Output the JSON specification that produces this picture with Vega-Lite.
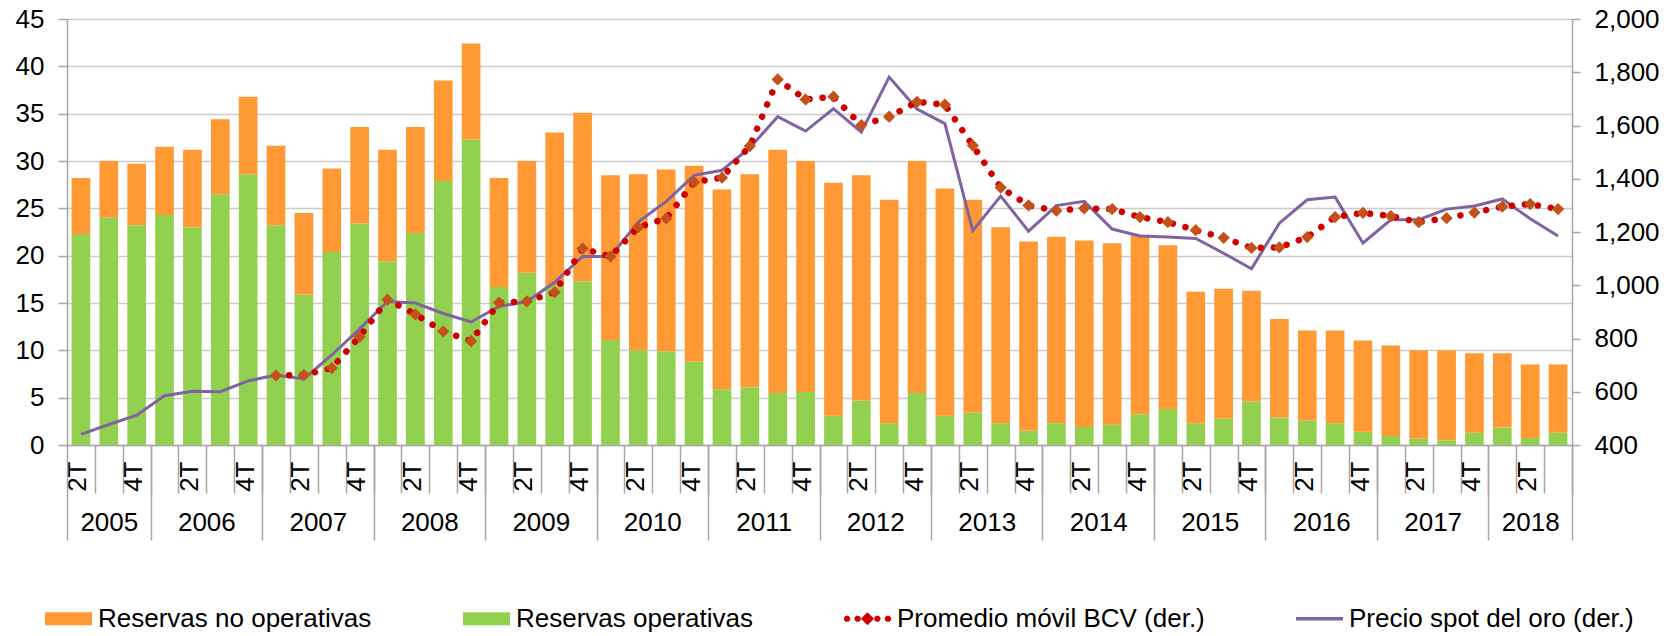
{
  "$schema": "https://vega.github.io/schema/vega-lite/v6.json",
  "width": 1505,
  "height": 426,
  "autosize": {"type": "none"},
  "padding": {"left": 67, "top": 19, "right": 104, "bottom": 191},
  "background": "white",
  "config": {
    "font": "Liberation Sans",
    "view": {"stroke": null},
    "axis": {"labelFont": "Liberation Sans", "labelColor": "#000000", "labelFontSize": 26, "title": null},
    "legend": {"labelFont": "Liberation Sans"}
  },
  "datasets": {
    "trimestres": [
      {"p": "2005-2T", "precio": 440},
      {"p": "2005-3T", "precio": 477},
      {"p": "2005-4T", "precio": 512},
      {"p": "2006-1T", "precio": 585},
      {"p": "2006-2T", "precio": 602},
      {"p": "2006-3T", "precio": 600},
      {"p": "2006-4T", "precio": 641},
      {"p": "2007-1T", "precio": 663, "promedio": 661},
      {"p": "2007-2T", "precio": 648, "promedio": 663},
      {"p": "2007-3T", "precio": 738, "promedio": 689},
      {"p": "2007-4T", "precio": 836, "promedio": 807},
      {"p": "2008-1T", "precio": 939, "promedio": 946},
      {"p": "2008-2T", "precio": 933, "promedio": 891},
      {"p": "2008-3T", "precio": 894, "promedio": 827},
      {"p": "2008-4T", "precio": 862, "promedio": 790},
      {"p": "2009-1T", "precio": 920, "promedio": 935},
      {"p": "2009-2T", "precio": 939, "promedio": 939},
      {"p": "2009-3T", "precio": 1011, "promedio": 974},
      {"p": "2009-4T", "precio": 1108, "promedio": 1138},
      {"p": "2010-1T", "precio": 1108, "promedio": 1108},
      {"p": "2010-2T", "precio": 1238, "promedio": 1218},
      {"p": "2010-3T", "precio": 1315, "promedio": 1251},
      {"p": "2010-4T", "precio": 1413, "promedio": 1387},
      {"p": "2011-1T", "precio": 1432, "promedio": 1404},
      {"p": "2011-2T", "precio": 1516, "promedio": 1523},
      {"p": "2011-3T", "precio": 1633, "promedio": 1773},
      {"p": "2011-4T", "precio": 1579, "promedio": 1698},
      {"p": "2012-1T", "precio": 1663, "promedio": 1708},
      {"p": "2012-2T", "precio": 1575, "promedio": 1601},
      {"p": "2012-3T", "precio": 1782, "promedio": 1633},
      {"p": "2012-4T", "precio": 1662, "promedio": 1689},
      {"p": "2013-1T", "precio": 1607, "promedio": 1678},
      {"p": "2013-2T", "precio": 1205, "promedio": 1525},
      {"p": "2013-3T", "precio": 1335, "promedio": 1367},
      {"p": "2013-4T", "precio": 1203, "promedio": 1300},
      {"p": "2014-1T", "precio": 1299, "promedio": 1280},
      {"p": "2014-2T", "precio": 1315, "promedio": 1289},
      {"p": "2014-3T", "precio": 1211, "promedio": 1286},
      {"p": "2014-4T", "precio": 1185, "promedio": 1256},
      {"p": "2015-1T", "precio": 1181, "promedio": 1237},
      {"p": "2015-2T", "precio": 1176, "promedio": 1207},
      {"p": "2015-3T", "precio": 1120, "promedio": 1178},
      {"p": "2015-4T", "precio": 1062, "promedio": 1140},
      {"p": "2016-1T", "precio": 1233, "promedio": 1142},
      {"p": "2016-2T", "precio": 1321, "promedio": 1181},
      {"p": "2016-3T", "precio": 1331, "promedio": 1256},
      {"p": "2016-4T", "precio": 1159, "promedio": 1272},
      {"p": "2017-1T", "precio": 1246, "promedio": 1260},
      {"p": "2017-2T", "precio": 1246, "promedio": 1237},
      {"p": "2017-3T", "precio": 1286, "promedio": 1252},
      {"p": "2017-4T", "precio": 1298, "promedio": 1273},
      {"p": "2018-1T", "precio": 1324, "promedio": 1295},
      {"p": "2018-2T", "precio": 1250, "promedio": 1305},
      {"p": "2018-3T", "precio": 1185, "promedio": 1286}
    ],
    "reservas": [
      {"p": "2005-2T", "serie": "Reservas operativas", "valor": 22.3}, {"p": "2005-2T", "serie": "Reservas no operativas", "valor": 5.9},
      {"p": "2005-3T", "serie": "Reservas operativas", "valor": 24.0}, {"p": "2005-3T", "serie": "Reservas no operativas", "valor": 6.0},
      {"p": "2005-4T", "serie": "Reservas operativas", "valor": 23.2}, {"p": "2005-4T", "serie": "Reservas no operativas", "valor": 6.5},
      {"p": "2006-1T", "serie": "Reservas operativas", "valor": 24.3}, {"p": "2006-1T", "serie": "Reservas no operativas", "valor": 7.2},
      {"p": "2006-2T", "serie": "Reservas operativas", "valor": 23.0}, {"p": "2006-2T", "serie": "Reservas no operativas", "valor": 8.2},
      {"p": "2006-3T", "serie": "Reservas operativas", "valor": 26.5}, {"p": "2006-3T", "serie": "Reservas no operativas", "valor": 7.9},
      {"p": "2006-4T", "serie": "Reservas operativas", "valor": 28.6}, {"p": "2006-4T", "serie": "Reservas no operativas", "valor": 8.2},
      {"p": "2007-1T", "serie": "Reservas operativas", "valor": 23.2}, {"p": "2007-1T", "serie": "Reservas no operativas", "valor": 8.4},
      {"p": "2007-2T", "serie": "Reservas operativas", "valor": 15.9}, {"p": "2007-2T", "serie": "Reservas no operativas", "valor": 8.6},
      {"p": "2007-3T", "serie": "Reservas operativas", "valor": 20.4}, {"p": "2007-3T", "serie": "Reservas no operativas", "valor": 8.8},
      {"p": "2007-4T", "serie": "Reservas operativas", "valor": 23.4}, {"p": "2007-4T", "serie": "Reservas no operativas", "valor": 10.2},
      {"p": "2008-1T", "serie": "Reservas operativas", "valor": 19.4}, {"p": "2008-1T", "serie": "Reservas no operativas", "valor": 11.8},
      {"p": "2008-2T", "serie": "Reservas operativas", "valor": 22.4}, {"p": "2008-2T", "serie": "Reservas no operativas", "valor": 11.2},
      {"p": "2008-3T", "serie": "Reservas operativas", "valor": 27.9}, {"p": "2008-3T", "serie": "Reservas no operativas", "valor": 10.6},
      {"p": "2008-4T", "serie": "Reservas operativas", "valor": 32.3}, {"p": "2008-4T", "serie": "Reservas no operativas", "valor": 10.1},
      {"p": "2009-1T", "serie": "Reservas operativas", "valor": 16.7}, {"p": "2009-1T", "serie": "Reservas no operativas", "valor": 11.5},
      {"p": "2009-2T", "serie": "Reservas operativas", "valor": 18.2}, {"p": "2009-2T", "serie": "Reservas no operativas", "valor": 11.8},
      {"p": "2009-3T", "serie": "Reservas operativas", "valor": 16.8}, {"p": "2009-3T", "serie": "Reservas no operativas", "valor": 16.2},
      {"p": "2009-4T", "serie": "Reservas operativas", "valor": 17.3}, {"p": "2009-4T", "serie": "Reservas no operativas", "valor": 17.8},
      {"p": "2010-1T", "serie": "Reservas operativas", "valor": 11.1}, {"p": "2010-1T", "serie": "Reservas no operativas", "valor": 17.4},
      {"p": "2010-2T", "serie": "Reservas operativas", "valor": 10.0}, {"p": "2010-2T", "serie": "Reservas no operativas", "valor": 18.6},
      {"p": "2010-3T", "serie": "Reservas operativas", "valor": 9.9}, {"p": "2010-3T", "serie": "Reservas no operativas", "valor": 19.2},
      {"p": "2010-4T", "serie": "Reservas operativas", "valor": 8.8}, {"p": "2010-4T", "serie": "Reservas no operativas", "valor": 20.7},
      {"p": "2011-1T", "serie": "Reservas operativas", "valor": 5.9}, {"p": "2011-1T", "serie": "Reservas no operativas", "valor": 21.1},
      {"p": "2011-2T", "serie": "Reservas operativas", "valor": 6.1}, {"p": "2011-2T", "serie": "Reservas no operativas", "valor": 22.5},
      {"p": "2011-3T", "serie": "Reservas operativas", "valor": 5.5}, {"p": "2011-3T", "serie": "Reservas no operativas", "valor": 25.7},
      {"p": "2011-4T", "serie": "Reservas operativas", "valor": 5.6}, {"p": "2011-4T", "serie": "Reservas no operativas", "valor": 24.4},
      {"p": "2012-1T", "serie": "Reservas operativas", "valor": 3.1}, {"p": "2012-1T", "serie": "Reservas no operativas", "valor": 24.6},
      {"p": "2012-2T", "serie": "Reservas operativas", "valor": 4.7}, {"p": "2012-2T", "serie": "Reservas no operativas", "valor": 23.8},
      {"p": "2012-3T", "serie": "Reservas operativas", "valor": 2.3}, {"p": "2012-3T", "serie": "Reservas no operativas", "valor": 23.6},
      {"p": "2012-4T", "serie": "Reservas operativas", "valor": 5.5}, {"p": "2012-4T", "serie": "Reservas no operativas", "valor": 24.5},
      {"p": "2013-1T", "serie": "Reservas operativas", "valor": 3.1}, {"p": "2013-1T", "serie": "Reservas no operativas", "valor": 24.0},
      {"p": "2013-2T", "serie": "Reservas operativas", "valor": 3.4}, {"p": "2013-2T", "serie": "Reservas no operativas", "valor": 22.5},
      {"p": "2013-3T", "serie": "Reservas operativas", "valor": 2.3}, {"p": "2013-3T", "serie": "Reservas no operativas", "valor": 20.7},
      {"p": "2013-4T", "serie": "Reservas operativas", "valor": 1.5}, {"p": "2013-4T", "serie": "Reservas no operativas", "valor": 20.0},
      {"p": "2014-1T", "serie": "Reservas operativas", "valor": 2.3}, {"p": "2014-1T", "serie": "Reservas no operativas", "valor": 19.7},
      {"p": "2014-2T", "serie": "Reservas operativas", "valor": 1.9}, {"p": "2014-2T", "serie": "Reservas no operativas", "valor": 19.7},
      {"p": "2014-3T", "serie": "Reservas operativas", "valor": 2.15}, {"p": "2014-3T", "serie": "Reservas no operativas", "valor": 19.15},
      {"p": "2014-4T", "serie": "Reservas operativas", "valor": 3.25}, {"p": "2014-4T", "serie": "Reservas no operativas", "valor": 18.95},
      {"p": "2015-1T", "serie": "Reservas operativas", "valor": 3.8}, {"p": "2015-1T", "serie": "Reservas no operativas", "valor": 17.3},
      {"p": "2015-2T", "serie": "Reservas operativas", "valor": 2.3}, {"p": "2015-2T", "serie": "Reservas no operativas", "valor": 13.9},
      {"p": "2015-3T", "serie": "Reservas operativas", "valor": 2.8}, {"p": "2015-3T", "serie": "Reservas no operativas", "valor": 13.7},
      {"p": "2015-4T", "serie": "Reservas operativas", "valor": 4.6}, {"p": "2015-4T", "serie": "Reservas no operativas", "valor": 11.7},
      {"p": "2016-1T", "serie": "Reservas operativas", "valor": 2.9}, {"p": "2016-1T", "serie": "Reservas no operativas", "valor": 10.4},
      {"p": "2016-2T", "serie": "Reservas operativas", "valor": 2.6}, {"p": "2016-2T", "serie": "Reservas no operativas", "valor": 9.5},
      {"p": "2016-3T", "serie": "Reservas operativas", "valor": 2.3}, {"p": "2016-3T", "serie": "Reservas no operativas", "valor": 9.8},
      {"p": "2016-4T", "serie": "Reservas operativas", "valor": 1.4}, {"p": "2016-4T", "serie": "Reservas no operativas", "valor": 9.65},
      {"p": "2017-1T", "serie": "Reservas operativas", "valor": 0.95}, {"p": "2017-1T", "serie": "Reservas no operativas", "valor": 9.55},
      {"p": "2017-2T", "serie": "Reservas operativas", "valor": 0.65}, {"p": "2017-2T", "serie": "Reservas no operativas", "valor": 9.35},
      {"p": "2017-3T", "serie": "Reservas operativas", "valor": 0.5}, {"p": "2017-3T", "serie": "Reservas no operativas", "valor": 9.5},
      {"p": "2017-4T", "serie": "Reservas operativas", "valor": 1.3}, {"p": "2017-4T", "serie": "Reservas no operativas", "valor": 8.4},
      {"p": "2018-1T", "serie": "Reservas operativas", "valor": 1.85}, {"p": "2018-1T", "serie": "Reservas no operativas", "valor": 7.85},
      {"p": "2018-2T", "serie": "Reservas operativas", "valor": 0.75}, {"p": "2018-2T", "serie": "Reservas no operativas", "valor": 7.75},
      {"p": "2018-3T", "serie": "Reservas operativas", "valor": 1.3}, {"p": "2018-3T", "serie": "Reservas no operativas", "valor": 7.2}
    ]
  },
  "resolve": {"scale": {"y": "independent"}, "axis": {"x": "independent", "y": "independent"}},
  "layer": [
    {
      "data": {"name": "reservas"},
      "mark": {"type": "bar"},
      "encoding": {
        "x": {
          "field": "p", "type": "ordinal",
          "scale": {"paddingInner": 0.33, "paddingOuter": 0.165},
          "axis": {
            "orient": "bottom",
            "domainColor": "#A6A6A6", "domainWidth": 1.5,
            "tickColor": "#A6A6A6", "tickWidth": 1.5, "tickSize": 48, "tickOffset": 13.94,
            "labelAngle": 270, "labelAlign": "right", "labelBaseline": "middle",
            "labelPadding": -32, "labelOffset": -16.9,
            "labelExpr": "isValid(datum.value) && (slice(''+datum.value, 5) == '2T' || slice(''+datum.value, 5) == '4T') ? slice(''+datum.value, 5) : ''",
            "labelOverlap": false, "labelBound": false,
            "grid": false
          }
        },
        "y": {
          "field": "valor", "type": "quantitative", "stack": "zero",
          "scale": {"domain": [0, 45], "nice": false, "zero": true},
          "axis": {
            "orient": "left",
            "values": [0, 5, 10, 15, 20, 25, 30, 35, 40, 45],
            "grid": true, "gridColor": "#CCCCCC", "gridWidth": 1.5,
            "domainColor": "#A6A6A6", "domainWidth": 1.5,
            "tickColor": "#A6A6A6", "tickWidth": 1.5, "tickSize": 9,
            "labelPadding": 14
          }
        },
        "color": {
          "field": "serie", "type": "nominal",
          "scale": {
            "domain": ["Reservas no operativas", "Reservas operativas", "Promedio móvil BCV (der.)", "Precio spot del oro (der.)"],
            "range": ["#FF9933", "#92D050", "#D00000", "#8064A2"]
          },
          "legend": {
            "orient": "none", "legendX": -22, "legendY": 576,
            "direction": "horizontal", "columns": 4, "title": null,
            "columnPadding": 91, "padding": 0,
            "labelFontSize": 26, "labelColor": "#000000", "labelOffset": 6, "labelLimit": 0,
            "symbolSize": 2209, "symbolStrokeWidth": 0,
            "encode": {
              "symbols": {
                "update": {
                  "shape": {"signal": "datum.value == 'Precio spot del oro (der.)' ? 'M-1,-0.075L1,-0.075L1,0.075L-1,0.075Z' : datum.value == 'Promedio móvil BCV (der.)' ? 'M-0.74,-0.054L-0.74,0.054L-0.816,0.13L-0.924,0.13L-1,0.054L-1,-0.054L-0.924,-0.13L-0.816,-0.13ZM-0.29,-0.054L-0.29,0.054L-0.366,0.13L-0.474,0.13L-0.55,0.054L-0.55,-0.054L-0.474,-0.13L-0.366,-0.13ZM-0.28,0L0,-0.28L0.28,0L0,0.28ZM0.55,-0.054L0.55,0.054L0.474,0.13L0.366,0.13L0.29,0.054L0.29,-0.054L0.366,-0.13L0.474,-0.13ZM1,-0.054L1,0.054L0.924,0.13L0.816,0.13L0.74,0.054L0.74,-0.054L0.816,-0.13L0.924,-0.13Z' : 'M-1,-0.28L1,-0.28L1,0.28L-1,0.28Z'"},
                  "fill": {"scale": "color", "field": "value"},
                  "fillOpacity": {"value": 1},
                  "stroke": {"value": "transparent"},
                  "strokeWidth": {"value": 0},
                  "opacity": {"value": 1}
                }
              }
            }
          }
        },
        "order": {"field": "serie", "sort": "descending"}
      }
    },
    {
      "data": {"name": "trimestres"},
      "mark": {"type": "line", "strokeWidth": 3},
      "encoding": {
        "x": {"field": "p", "type": "ordinal", "axis": null},
        "y": {
          "field": "precio", "type": "quantitative",
          "scale": {"domain": [400, 2000], "nice": false, "zero": false},
          "axis": {
            "orient": "right",
            "values": [400, 600, 800, 1000, 1200, 1400, 1600, 1800, 2000],
            "labelExpr": "format(datum.value, ',')",
            "grid": false,
            "domainColor": "#A6A6A6", "domainWidth": 1.5,
            "tickColor": "#A6A6A6", "tickWidth": 1.5, "tickSize": 8,
            "labelPadding": 14
          }
        },
        "color": {"datum": "Precio spot del oro (der.)", "type": "nominal"}
      }
    },
    {
      "data": {"name": "trimestres"},
      "transform": [{"filter": "isValid(datum.promedio)"}],
      "mark": {"type": "line", "strokeWidth": 6.5, "strokeDash": [0.1, 13], "strokeCap": "round"},
      "encoding": {
        "x": {
          "field": "p", "type": "ordinal",
          "axis": {
            "orient": "bottom", "domain": false, "labels": false, "grid": false,
            "tickColor": "#A6A6A6", "tickWidth": 1.5, "tickSize": 95, "tickOffset": -13.94,
            "tickOpacity": {"condition": {"test": "datum.value == '2005-2T'", "value": 1}, "value": 0}
          }
        },
        "y": {
          "field": "promedio", "type": "quantitative",
          "scale": {"domain": [400, 2000], "nice": false, "zero": false},
          "axis": null
        },
        "color": {"datum": "Promedio móvil BCV (der.)", "type": "nominal"}
      }
    },
    {
      "data": {"name": "trimestres"},
      "transform": [{"filter": "isValid(datum.promedio)"}],
      "mark": {"type": "point", "shape": "diamond", "filled": true, "size": 150, "color": "#C4501A", "opacity": 1},
      "encoding": {
        "x": {
          "field": "p", "type": "ordinal",
          "axis": {
            "orient": "bottom", "domain": false, "grid": false,
            "tickColor": "#A6A6A6", "tickWidth": 1.5, "tickSize": 95, "tickOffset": 13.94,
            "tickOpacity": {"condition": {"test": "datum.value == '2018-3T' || slice(''+datum.value, 5) == '4T'", "value": 1}, "value": 0},
            "labelAngle": 0, "labelAlign": "center", "labelBaseline": "top",
            "labelPadding": -31,
            "labelOffset": {"condition": {"test": "datum.value == '2005-2T' || datum.value == '2018-1T'", "value": 13.94}, "value": 0},
            "labelExpr": "isValid(datum.value) && (datum.value == '2005-2T' || datum.value == '2018-1T' || (slice(''+datum.value, 5) == '2T' && datum.value != '2018-2T')) ? slice(''+datum.value, 0, 4) : ''",
            "labelOverlap": false, "labelBound": false
          }
        },
        "y": {
          "field": "promedio", "type": "quantitative",
          "scale": {"domain": [400, 2000], "nice": false, "zero": false},
          "axis": null
        }
      }
    }
  ]
}
